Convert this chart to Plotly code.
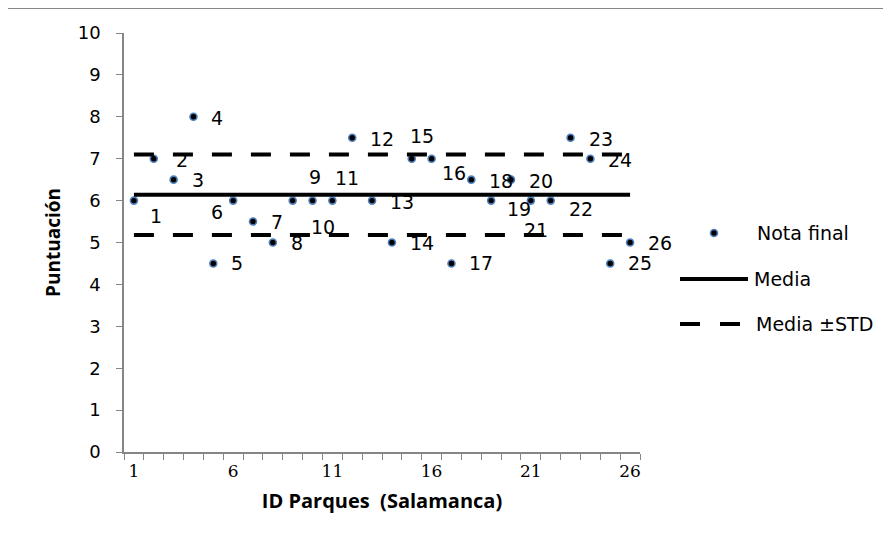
import plotly.graph_objects as go

# ---------------- data ----------------
park_ids = list(range(1, 27))
nota_final = [6, 7, 6.5, 8, 4.5, 6, 5.5, 5, 6, 6, 6, 7.5, 6, 5, 7, 7, 4.5, 6.5, 6, 6.5, 6, 6, 7.5, 7, 4.5, 5]
media = 6.14
std = 0.96
x_tick_labels = [1, 6, 11, 16, 21, 26]
y_tick_labels = list(range(0, 11))

# label offsets (pixels, right / down) of the data labels
label_dx = [22, 28, 24, 24, 24, -16, 24, 24, 22, 10, 15, 30, 30, 30, 10, 22, 30, 30, 28, 30, 5, 30, 30, 30, 30, 30]
label_dy = [15, 1, 0, 1, 0, 11, 0, 0, -24, 26, -23, 1, 1, 0, -23, 14, 0, 1, 8, 1, 29, 8, 1, 1, 0, 0]

# ---------------- layout geometry ----------------
OFF = 8  # page body margin
W, H = 883, 542
ML, MR, MT, MB = 116, 251, 25, 98
PW, PH = W - ML - MR, H - MT - MB

def px(xp):
    return (xp - OFF - ML) / PW

def py(yp):
    return (H - MB - (yp - OFF)) / PH

FONT = "'DejaVu Sans', sans-serif"
TFONT = "'Open Sans', sans-serif"
GRAY = "#868686"

fig = go.Figure()

fig.add_trace(go.Scatter(
    x=park_ids, y=nota_final, mode="markers", name="Nota final",
    marker=dict(color="black", size=7, line=dict(color="#4F81BD", width=1.6)),
    showlegend=False,
))
fig.add_trace(go.Scatter(
    x=[park_ids[0], park_ids[-1]], y=[media, media], mode="lines", name="Media",
    line=dict(color="black", width=4), showlegend=False,
))
for v in (media + std, media - std):
    fig.add_trace(go.Scatter(
        x=[park_ids[0], park_ids[-1]], y=[v, v], mode="lines", name="Media ±STD",
        line=dict(color="black", width=4, dash="20px,19px"), showlegend=False,
    ))

annotations = []
for i, v, dx, dy in zip(park_ids, nota_final, label_dx, label_dy):
    annotations.append(dict(
        x=i, y=v, xref="x", yref="y", text=str(i), showarrow=False,
        xanchor="center", yanchor="middle", xshift=dx, yshift=-dy,
        font=dict(family=FONT, size=19, color="black"),
    ))

# manual legend
leg_font = dict(family=FONT, size=19, color="black")
annotations += [
    dict(x=px(755), y=py(233), xref="paper", yref="paper", text="Nota final", showarrow=False,
         xanchor="left", yanchor="middle", font=leg_font),
    dict(x=px(752), y=py(279), xref="paper", yref="paper", text="Media", showarrow=False,
         xanchor="left", yanchor="middle", font=leg_font),
    dict(x=px(754), y=py(324), xref="paper", yref="paper", text="Media ±STD", showarrow=False,
         xanchor="left", yanchor="middle", font=leg_font),
]

shapes = [
    # outer chart frame
    dict(type="rect", xref="paper", yref="paper", x0=px(7.5), x1=px(910), y0=py(570), y1=py(8.5),
         line=dict(color=GRAY, width=1), fillcolor="rgba(0,0,0,0)", layer="below"),
    # legend marker
    dict(type="circle", xref="paper", yref="paper", x0=px(710.5), x1=px(717.5), y0=py(236.5), y1=py(229.5),
         fillcolor="black", line=dict(color="#4F81BD", width=1.6)),
    # legend solid line
    dict(type="line", xref="paper", yref="paper", x0=px(680), x1=px(748), y0=py(279), y1=py(279),
         line=dict(color="black", width=4)),
    # legend dashed line
    dict(type="line", xref="paper", yref="paper", x0=px(680), x1=px(700), y0=py(324), y1=py(324),
         line=dict(color="black", width=4)),
    dict(type="line", xref="paper", yref="paper", x0=px(720), x1=px(740), y0=py(324), y1=py(324),
         line=dict(color="black", width=4)),
]

fig.update_layout(
    width=W, height=H,
    margin=dict(l=ML, r=MR, t=MT, b=MB, autoexpand=False),
    paper_bgcolor="white", plot_bgcolor="white",
    showlegend=False,
    annotations=annotations,
    shapes=shapes,
    xaxis=dict(
        range=[0.5, len(park_ids) + 0.5],
        tickmode="array", tickvals=x_tick_labels, ticktext=[str(t) for t in x_tick_labels],
        ticks="", ticklabelstandoff=3,
        tickfont=dict(family="'DejaVu Serif', serif", size=17, color="black"),
        showline=True, linecolor=GRAY, linewidth=1.5, showgrid=False, zeroline=False,
        minor=dict(tickmode="array", tickvals=[k + 0.5 for k in range(len(park_ids) + 1)],
                   ticks="outside", ticklen=6, tickcolor=GRAY, tickwidth=1.3, showgrid=False),
        title=dict(text="<b>ID Parques&nbsp; (Salamanca)</b>", standoff=14,
                   font=dict(family=TFONT, size=20, color="black")),
        fixedrange=True,
    ),
    yaxis=dict(
        range=[0, 10], tickmode="array", tickvals=y_tick_labels,
        ticks="outside", ticklen=6, tickcolor=GRAY, tickwidth=1.3, ticklabelstandoff=12,
        tickfont=dict(family=FONT, size=18, color="black"),
        showline=True, linecolor=GRAY, linewidth=1.5, showgrid=False, zeroline=False,
        title=dict(text="<b>Puntuación</b>", standoff=12,
                   font=dict(family=TFONT, size=19, color="black")),
        fixedrange=True,
    ),
)

fig.write_html("out.html")
